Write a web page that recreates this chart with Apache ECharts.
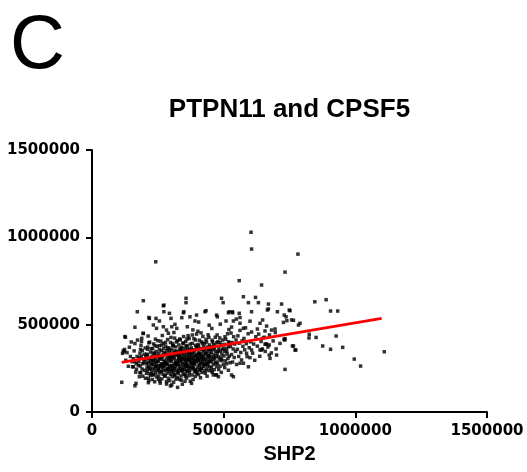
<!DOCTYPE html>
<html><head><meta charset="utf-8">
<script src="https://cdn.jsdelivr.net/npm/echarts@6/dist/echarts.min.js"></script>
<style>html,body{margin:0;padding:0;background:#fff}#c{width:527px;height:472px}</style>
</head><body><div id="c"></div>
<script>
const panelLetter = 'C';
const chartTitle = 'PTPN11 and CPSF5';
const xAxisName = 'SHP2';
const axisTicks = [0, 500000, 1000000, 1500000];

const outerPoints = [
[242e3,860e3],[604e3,1029e3],[606e3,933e3],[782e3,904e3],[733e3,801e3],[559e3,752e3],[644e3,727e3],[195e3,637e3],[273e3,612e3],[357e3,651e3],[357e3,626e3],[492e3,651e3],[498e3,626e3],[575e3,660e3],[621e3,656e3],[594e3,626e3],[632e3,626e3],[670e3,618e3],[720e3,618e3],[846e3,631e3],[889e3,643e3],[666e3,584e3],[704e3,574e3],[752e3,580e3],[906e3,578e3],[933e3,578e3],[271e3,608e3],
[727e3,513e3],[765e3,525e3],[784e3,498e3],[790e3,508e3],[825e3,445e3],[824e3,424e3],[851e3,427e3],[927e3,435e3],[876e3,378e3],[906e3,359e3],[952e3,370e3],[996e3,303e3],[1020e3,263e3],[1110e3,345e3],[733e3,420e3],[732e3,412e3],[765e3,378e3],[774e3,355e3],[733e3,244e3],[737e3,545e3],[758e3,527e3],[749e3,584e3],[730e3,555e3],[740e3,523e3],[638e3,508e3],[648e3,527e3],[682e3,469e3],[628e3,475e3],[657e3,464e3],[695e3,475e3],[648e3,422e3],[661e3,389e3],[673e3,384e3],[657e3,388e3],[663e3,388e3],[644e3,355e3],[673e3,326e3],[676e3,307e3],[701e3,326e3],[714e3,393e3],[729e3,416e3],[761e3,378e3],[771e3,355e3],[699e3,361e3],[638e3,355e3],[606e3,355e3],[587e3,336e3],[600e3,311e3],[594e3,259e3],[575e3,279e3],[562e3,279e3],[537e3,202e3],[530e3,212e3],[473e3,212e3],[461e3,212e3],[480e3,202e3],
[172e3,574e3],[273e3,574e3],[218e3,536e3],[300e3,536e3],[256e3,521e3],[341e3,540e3],[349e3,574e3],[372e3,545e3],[391e3,521e3],[127e3,428e3],[233e3,498e3],[245e3,479e3],[271e3,488e3],[283e3,469e3],[303e3,488e3],[322e3,479e3],[195e3,450e3],[189e3,422e3],[125e3,432e3],[163e3,485e3],[216e3,541e3],[243e3,536e3],[294e3,565e3],[347e3,568e3],[397e3,555e3],[433e3,580e3],[473e3,555e3],[518e3,568e3],[534e3,568e3],[562e3,541e3],[521e3,574e3],[533e3,574e3],[559e3,565e3],[606e3,574e3],[670e3,590e3],[429e3,574e3],[476e3,545e3],[509e3,521e3],[537e3,521e3],[562e3,508e3],[575e3,479e3],
[113e3,170e3],[167e3,164e3],[163e3,150e3],[303e3,155e3],[325e3,141e3],[353e3,176e3],[378e3,164e3],[298e3,149e3],[283e3,174e3],[252e3,187e3],[214e3,193e3],[180e3,202e3],[182e3,225e3],[157e3,259e3],[163e3,288e3],[122e3,345e3],
[315e3,502e3],[362e3,488e3],[405e3,515e3],[445e3,497e3],[487e3,503e3],[530e3,486e3],[548e3,532e3],[600e3,520e3],[383e3,470e3],[455e3,478e3],[520e3,472e3],[402e3,462e3]
];

const corePoints = [
[116e3,336e3],[119e3,352e3],[124e3,358e3],
[128e3,296e3],[133e3,340e3],[138e3,262e3],[142e3,371e3],[146e3,318e3],[149e3,401e3],
[152e3,288e3],[154e3,259e3],[157e3,305e3],[160e3,350e3],[163e3,392e3],[166e3,228e3],[168e3,277e3],[171e3,318e3],[173e3,412e3],[169e3,245e3],
[176e3,268e3],[178e3,290e3],[180e3,312e3],[182e3,337e3],[184e3,358e3],[186e3,381e3],[188e3,403e3],[190e3,246e3],[192e3,276e3],[194e3,450e3],[196e3,300e3],[198e3,331e3],[185e3,225e3],[193e3,205e3],
[203e3,193e3],[206e3,276e3],[208e3,331e3],[210e3,237e3],[212e3,372e3],[214e3,168e3],[215e3,262e3],[217e3,306e3],[218e3,219e3],[219e3,400e3],[220e3,287e3],[221e3,245e3],[222e3,343e3],[223e3,210e3],[204e3,317e3],[209e3,254e3],[213e3,435e3],[216e3,180e3],[224e3,297e3],[211e3,359e3],
[226e3,271e3],[227e3,228e3],[228e3,319e3],[229e3,186e3],[230e3,364e3],[231e3,251e3],[232e3,293e3],[233e3,212e3],[234e3,390e3],[235e3,276e3],[236e3,240e3],[237e3,333e3],[238e3,173e3],[239e3,308e3],[240e3,257e3],[241e3,417e3],[242e3,222e3],[243e3,347e3],[244e3,284e3],[245e3,201e3],[246e3,266e3],[247e3,376e3],[248e3,237e3],[249e3,315e3],
[251e3,246e3],[252e3,293e3],[253e3,204e3],[254e3,337e3],[255e3,266e3],[256e3,380e3],[257e3,224e3],[258e3,312e3],[259e3,165e3],[260e3,259e3],[261e3,406e3],[262e3,277e3],[263e3,233e3],[264e3,351e3],[265e3,190e3],[266e3,302e3],[267e3,438e3],[268e3,254e3],[269e3,325e3],[270e3,216e3],[271e3,272e3],[272e3,364e3],[273e3,238e3],[274e3,291e3],[252e3,320e3],[258e3,177e3],[266e3,274e3],[271e3,393e3],
[276e3,263e3],[277e3,329e3],[278e3,207e3],[279e3,286e3],[280e3,377e3],[281e3,241e3],[282e3,304e3],[283e3,160e3],[284e3,353e3],[285e3,222e3],[286e3,274e3],[287e3,415e3],[288e3,251e3],[289e3,318e3],[290e3,193e3],[291e3,292e3],[292e3,367e3],[293e3,232e3],[294e3,308e3],[295e3,179e3],[296e3,336e3],[297e3,257e3],[298e3,398e3],[299e3,216e3],[277e3,280e3],[281e3,334e3],[286e3,245e3],[290e3,451e3],[294e3,267e3],[298e3,320e3],
[301e3,289e3],[302e3,237e3],[303e3,356e3],[304e3,202e3],[305e3,318e3],[306e3,266e3],[307e3,392e3],[308e3,224e3],[309e3,304e3],[310e3,171e3],[311e3,338e3],[312e3,251e3],[313e3,277e3],[314e3,423e3],[315e3,213e3],[316e3,327e3],[317e3,259e3],[318e3,373e3],[319e3,188e3],[320e3,296e3],[321e3,240e3],[322e3,347e3],[323e3,271e3],[324e3,408e3],[302e3,312e3],[305e3,247e3],[309e3,379e3],[313e3,207e3],[317e3,284e3],[320e3,330e3],[323e3,228e3],[311e3,455e3],
[326e3,277e3],[327e3,343e3],[328e3,220e3],[329e3,306e3],[330e3,384e3],[331e3,251e3],[332e3,327e3],[333e3,187e3],[334e3,293e3],[335e3,413e3],[336e3,264e3],[337e3,354e3],[338e3,206e3],[339e3,318e3],[340e3,238e3],[341e3,370e3],[342e3,283e3],[343e3,159e3],[344e3,336e3],[345e3,230e3],[346e3,302e3],[347e3,396e3],[348e3,257e3],[349e3,322e3],[327e3,271e3],[330e3,234e3],[333e3,361e3],[336e3,297e3],[339e3,182e3],[342e3,346e3],[345e3,274e3],[348e3,432e3],[331e3,313e3],[344e3,245e3],
[351e3,309e3],[352e3,243e3],[353e3,364e3],[354e3,216e3],[355e3,287e3],[356e3,403e3],[357e3,262e3],[358e3,331e3],[359e3,194e3],[360e3,316e3],[361e3,271e3],[362e3,378e3],[363e3,232e3],[364e3,301e3],[365e3,437e3],[366e3,253e3],[367e3,343e3],[368e3,208e3],[369e3,293e3],[370e3,359e3],[371e3,239e3],[372e3,324e3],[373e3,176e3],[374e3,280e3],[352e3,347e3],[355e3,204e3],[358e3,276e3],[361e3,418e3],[364e3,260e3],[367e3,311e3],[370e3,225e3],[373e3,389e3],[356e3,297e3],[368e3,334e3],
[376e3,301e3],[377e3,367e3],[378e3,249e3],[379e3,323e3],[380e3,212e3],[381e3,393e3],[382e3,279e3],[383e3,337e3],[384e3,186e3],[385e3,311e3],[386e3,256e3],[387e3,420e3],[388e3,294e3],[389e3,231e3],[390e3,352e3],[391e3,274e3],[392e3,204e3],[393e3,382e3],[394e3,316e3],[395e3,243e3],[396e3,289e3],[397e3,446e3],[398e3,331e3],[399e3,221e3],[378e3,305e3],[381e3,263e3],[384e3,356e3],[387e3,278e3],[390e3,325e3],[393e3,236e3],[396e3,373e3],[399e3,297e3],
[401e3,320e3],[402e3,256e3],[403e3,387e3],[404e3,293e3],[405e3,214e3],[406e3,342e3],[407e3,272e3],[408e3,411e3],[409e3,237e3],[410e3,309e3],[411e3,363e3],[412e3,196e3],[413e3,284e3],[414e3,332e3],[415e3,248e3],[416e3,401e3],[417e3,302e3],[418e3,227e3],[419e3,356e3],[420e3,276e3],[421e3,433e3],[422e3,318e3],[423e3,261e3],[424e3,374e3],[403e3,298e3],[407e3,333e3],[411e3,245e3],[415e3,316e3],[419e3,287e3],[423e3,347e3],
[426e3,327e3],[427e3,271e3],[428e3,394e3],[429e3,306e3],[430e3,222e3],[431e3,359e3],[432e3,287e3],[433e3,416e3],[434e3,246e3],[435e3,338e3],[436e3,299e3],[437e3,205e3],[438e3,372e3],[439e3,264e3],[440e3,320e3],[441e3,442e3],[442e3,282e3],[443e3,351e3],[444e3,237e3],[445e3,311e3],[446e3,384e3],[447e3,258e3],[448e3,333e3],[449e3,294e3],[431e3,271e3],[445e3,363e3],
[451e3,316e3],[452e3,373e3],[453e3,254e3],[454e3,342e3],[455e3,289e3],[456e3,411e3],[457e3,226e3],[458e3,357e3],[459e3,302e3],[460e3,271e3],[462e3,387e3],[463e3,327e3],[464e3,243e3],[465e3,364e3],[466e3,306e3],[468e3,428e3],[469e3,279e3],[470e3,347e3],[471e3,213e3],[472e3,321e3],[473e3,396e3],[474e3,260e3],
[476e3,337e3],[477e3,279e3],[478e3,402e3],[479e3,316e3],[481e3,243e3],[482e3,366e3],[483e3,298e3],[485e3,424e3],[486e3,262e3],[487e3,349e3],[488e3,311e3],[490e3,384e3],[491e3,227e3],[493e3,332e3],[494e3,293e3],[496e3,412e3],[497e3,356e3],[499e3,271e3],
[501e3,321e3],[502e3,387e3],[504e3,254e3],[505e3,346e3],[507e3,293e3],[508e3,417e3],[510e3,364e3],[511e3,276e3],[513e3,332e3],[515e3,448e3],[516e3,306e3],[518e3,239e3],[519e3,373e3],[521e3,319e3],[522e3,396e3],[524e3,282e3],
[526e3,376e3],[528e3,452e3],[530e3,329e3],[532e3,398e3],[534e3,286e3],[536e3,361e3],[538e3,431e3],[540e3,312e3],[542e3,389e3],[545e3,347e3],[547e3,412e3],[549e3,272e3],
[552e3,359e3],[554e3,436e3],[557e3,318e3],[559e3,394e3],[562e3,467e3],[565e3,341e3],[568e3,298e3],[570e3,407e3],[573e3,376e3],
[577e3,421e3],[580e3,356e3],[583e3,482e3],[586e3,391e3],[589e3,317e3],[593e3,448e3],[597e3,368e3],
[602e3,402e3],[606e3,458e3],[610e3,337e3],[614e3,389e3],[618e3,296e3],[622e3,431e3],
[628e3,377e3],[633e3,446e3],[637e3,319e3],[642e3,404e3],[647e3,361e3],
[654e3,428e3],[658e3,347e3],[663e3,492e3],[668e3,372e3],[674e3,441e3],[681e3,338e3],[688e3,407e3],[696e3,455e3]
];

const densePoints = [
[183e3,263e3],[187e3,318e3],[191e3,352e3],[197e3,284e3],[199e3,239e3],[202e3,367e3],[205e3,298e3],[207e3,222e3],[211e3,326e3],[213e3,281e3],[216e3,396e3],[219e3,251e3],[222e3,309e3],[225e3,362e3],[228e3,274e3],[231e3,215e3],[233e3,338e3],[236e3,297e3],[239e3,380e3],[242e3,262e3],[245e3,325e3],[248e3,291e3],[250e3,408e3],[253e3,248e3],[256e3,357e3],[259e3,305e3],[262e3,232e3],[265e3,383e3],[267e3,318e3],[270e3,262e3],[273e3,341e3],[276e3,205e3],[279e3,398e3],[282e3,276e3],[285e3,329e3],[288e3,365e3],[291e3,244e3],[294e3,353e3],[297e3,298e3],[300e3,427e3],[303e3,264e3],[306e3,379e3],[309e3,238e3],[312e3,312e3],[315e3,350e3],[318e3,278e3],[321e3,401e3],[324e3,197e3],[327e3,323e3],[330e3,289e3],[333e3,418e3],[336e3,245e3],[339e3,366e3],[342e3,305e3],[345e3,392e3],[348e3,215e3],[351e3,343e3],[354e3,268e3],[357e3,379e3],[360e3,236e3],[363e3,358e3],[366e3,299e3],[369e3,421e3],[372e3,262e3],[375e3,337e3],[378e3,283e3],[381e3,441e3],[384e3,247e3],[387e3,349e3],[390e3,296e3],[393e3,412e3],[396e3,228e3],[399e3,362e3],[402e3,308e3],[405e3,378e3],[408e3,266e3],[411e3,329e3],[414e3,453e3],[417e3,251e3],[420e3,392e3],[423e3,301e3],[426e3,363e3],[429e3,236e3],[432e3,337e3],[435e3,401e3],[438e3,275e3],[441e3,322e3],[444e3,427e3],[447e3,289e3],[450e3,359e3],[454e3,236e3],[458e3,402e3],[462e3,313e3],[466e3,377e3],[470e3,286e3],[475e3,441e3],[480e3,349e3],[486e3,398e3],[492e3,302e3],[498e3,365e3],[505e3,431e3],[512e3,348e3],[518e3,402e3]
];

const fitLine = [[113e3, 284e3], [1100e3, 536e3]];

const chart = echarts.init(document.getElementById('c'), null, {renderer: 'canvas'});
const tickFont = {fontFamily: 'DejaVu Sans', fontWeight: 'bold', fontSize: 15, color: '#000'};
const axisCommon = {
  type: 'value', min: axisTicks[0], max: axisTicks[axisTicks.length - 1], interval: axisTicks[1] - axisTicks[0],
  axisLine: {show: true, onZero: false, lineStyle: {color: '#000', width: 2}},
  axisTick: {show: true, length: 6, lineStyle: {color: '#000', width: 2}},
  axisLabel: Object.assign({margin: 12, formatter: v => String(v)}, tickFont),
  splitLine: {show: false}
};
chart.setOption({
  animation: false,
  backgroundColor: '#fff',
  title: {
    text: chartTitle, left: 284.5, top: 92, textAlign: 'center',
    textStyle: {fontFamily: 'Liberation Sans', fontWeight: 'bold', fontSize: 26, color: '#000'}
  },
  graphic: [{
    type: 'text', x: 10, y: 9,
    style: {text: panelLetter, fontFamily: 'Liberation Sans', fontSize: 76, fill: '#000',
      align: 'left', verticalAlign: 'top',
      shadowColor: 'rgba(0,0,0,0.25)', shadowBlur: 3, shadowOffsetX: 2, shadowOffsetY: 2}
  }],
  grid: {left: 92, right: 40, top: 150, bottom: 60, containLabel: false, outerBoundsMode: 'none'},
  xAxis: Object.assign({}, axisCommon, {
    name: xAxisName, nameLocation: 'middle', nameGap: 32,
    nameTextStyle: {fontFamily: 'Liberation Sans', fontWeight: 'bold', fontSize: 20, color: '#000'}
  }),
  yAxis: Object.assign({}, axisCommon),
  series: [
    {type: 'scatter', data: outerPoints.concat(corePoints, densePoints), symbol: 'rect', symbolSize: 3.5,
     itemStyle: {color: '#000'}, silent: true},
    {type: 'line', data: fitLine, symbol: 'none', lineStyle: {color: '#ff0000', width: 3}, silent: true, z: 3}
  ]
});
</script>
</body></html>
